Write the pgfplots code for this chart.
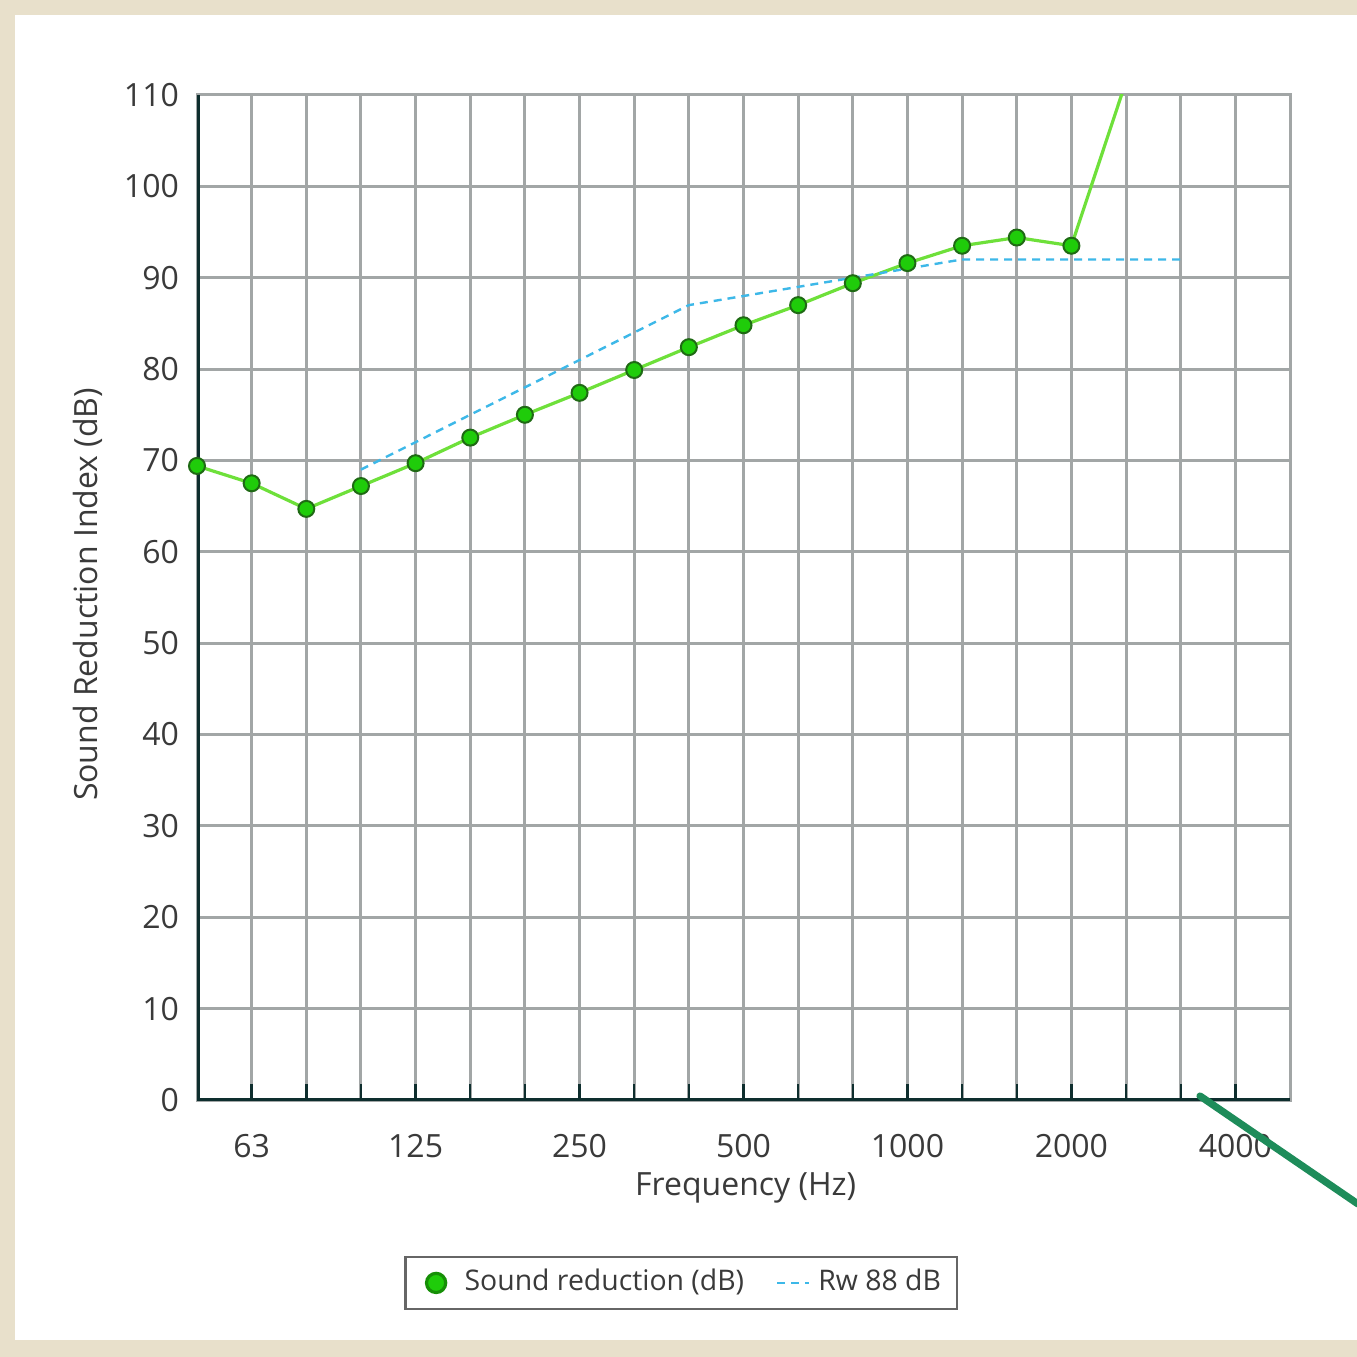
\documentclass[border=0pt]{standalone}
\usepackage{pgfplots}
\pgfplotsset{compat=1.18}
\usepackage{fontspec}
\setmainfont{Open Sans}
\definecolor{bgbeige}{HTML}{E8E0CB}
\definecolor{txt}{HTML}{3A3A3A}
\definecolor{gridc}{HTML}{A2A6A6}
\definecolor{axdark}{HTML}{0E2E2E}
\definecolor{lgreen}{HTML}{6EE03A}
\definecolor{mgreen}{HTML}{1FCC0A}
\definecolor{dgreen}{HTML}{1F6A14}
\definecolor{rwblue}{HTML}{3DB8E8}
\definecolor{pen}{HTML}{1E8C5A}
\pgfplotstableread{
x y
0 69.4
1 67.5
2 64.7
3 67.2
4 69.7
5 72.5
6 75.0
7 77.4
8 79.9
9 82.4
10 84.8
11 87.0
12 89.4
13 91.6
14 93.5
15 94.4
16 93.5
17 111.5
}\sound
\pgfplotstableread{
x y
3 69
4 72
5 75
6 78
7 81
8 84
9 87
10 88
11 89
12 90
13 91
14 92
15 92
16 92
17 92
18 92
}\rw
\begin{document}
\begin{tikzpicture}
\useasboundingbox (0,0) rectangle (339.25pt,-339.25pt);
\fill[bgbeige] (0,0) rectangle (339.25pt,-339.25pt);
\fill[white] (3.75pt,-3.75pt) rectangle (339.25pt,-335pt);
\begin{axis}[
  at={(49.25pt,-275pt)}, anchor=south west,
  scale only axis, width=273.25pt, height=251.25pt,
  xmin=0, xmax=20, ymin=0, ymax=110,
  xtick={0,...,20},
  xticklabels={,63,,,125,,,250,,,500,,,1000,,,2000,,,4000,},
  ytick={0,10,...,110},
  /pgf/number format/assume math mode=true,
  grid=major,
  major grid style={gridc, line width=0.75pt},
  axis line style={gridc, line width=0.75pt},
  tick align=inside,
  tick pos=left,
  major tick length=4pt,
  xtick style={axdark, line width=0.6pt},
  ytick style={gridc, line width=0.4pt},
  tick label style={txt, font=\fontsize{8}{10}\selectfont},
  xticklabel style={yshift=-5pt},
  yticklabel style={xshift=-1pt},
  xlabel={Frequency (Hz)},
  ylabel={Sound Reduction Index (dB)},
  every axis x label/.style={at={(rel axis cs:0.502,0)}, yshift=-22pt, anchor=center, txt, font=\fontsize{8}{10}\selectfont},
  every axis y label/.style={at={(rel axis cs:0,0.503)}, xshift=-27.25pt, rotate=90, anchor=center, txt, font=\fontsize{8}{10}\selectfont},
  legend columns=2,
  legend style={at={(rel axis cs:0.443,-0.182)}, anchor=center, draw=gray!80!black, line width=0.6pt,
    font=\fontsize{7.1}{9}\selectfont\color{txt}, inner xsep=2pt, inner ysep=1pt,
    /tikz/every even column/.append style={column sep=6pt}},
]
\addplot[lgreen, line width=0.8pt, mark=*, mark size=2pt,
  mark options={fill=mgreen, draw=dgreen, line width=0.5pt},
  legend image code/.code={\path[draw=none] (0cm,0cm) -- (0.38cm,0cm);\path[draw=none] plot[mark=*, mark size=2.4pt, mark options={draw=mgreen!70!black, fill=mgreen}] coordinates {(0.2cm,0cm)};}]
  table[x=x,y=y] {\sound};
\addlegendentry{Sound reduction (dB)}
\addplot[rwblue, line width=0.6pt, dash pattern=on 2pt off 1.5pt,
  legend image code/.code={\draw[rwblue, line width=0.6pt, dash pattern=on 2pt off 1.5pt] (0cm,0cm) -- (0.28cm,0cm);}]
  table[x=x,y=y] {\rw};
\addlegendentry{Rw 88 dB}
\draw[axdark, line width=1.5pt] (rel axis cs:0,0) -- (rel axis cs:0,1);
\draw[axdark, line width=1.2pt] (rel axis cs:0,0) -- (rel axis cs:1,0);
\end{axis}
\draw[pen, line width=1.8pt, line cap=round] (300pt,-274pt) -- (339.5pt,-301pt);
\end{tikzpicture}
\end{document}
